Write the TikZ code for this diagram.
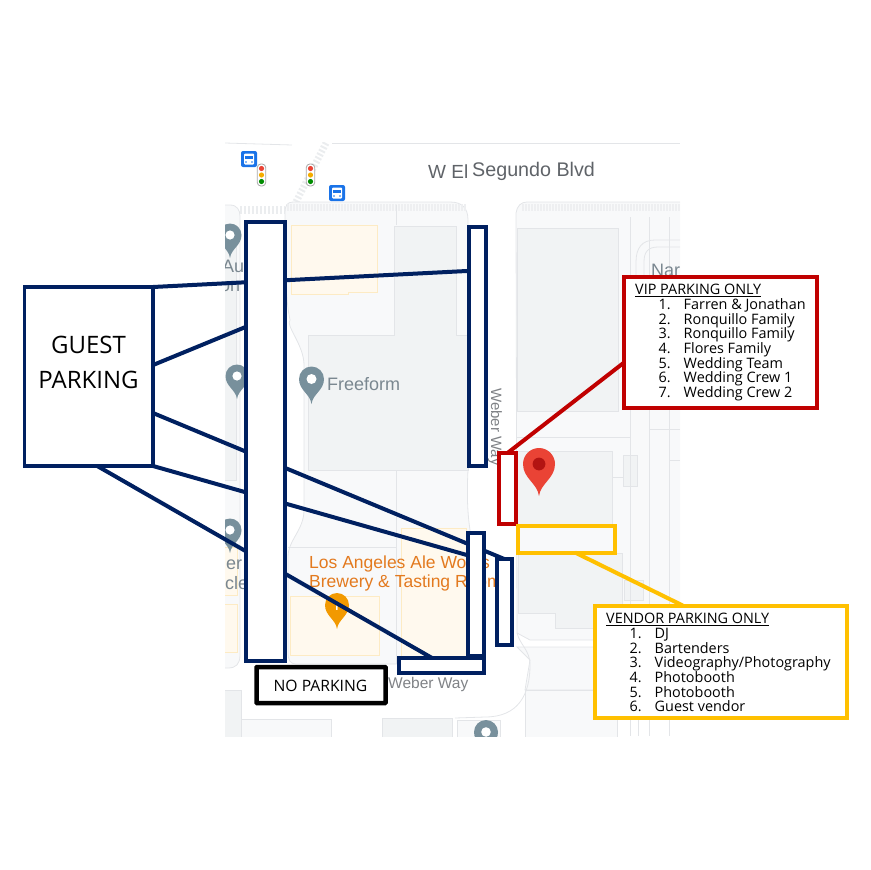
\documentclass[tikz,border=0pt]{standalone}
\usepackage{fontspec}
\setmainfont{Open Sans}
\newfontfamily\mapfont{Liberation Sans}
\usetikzlibrary{calc}
\definecolor{navy}{HTML}{002060}
\definecolor{vipred}{HTML}{C00000}
\definecolor{vendoryel}{HTML}{FFC000}
\definecolor{blockc}{HTML}{F8F9FA}
\definecolor{edgec}{HTML}{E3E5E8}
\definecolor{bldg}{HTML}{F1F3F4}
\definecolor{yelb}{HTML}{FFF9EE}
\definecolor{yeledge}{HTML}{FDEBC4}
\definecolor{pingray}{HTML}{78909C}
\definecolor{labelgray}{HTML}{7A8790}
\definecolor{roadtext}{HTML}{5F6368}
\definecolor{orangepin}{HTML}{F29900}
\definecolor{orangetext}{HTML}{E37A1F}
\definecolor{busblue}{HTML}{1A73E8}
\definecolor{pinred}{HTML}{EA4335}
\definecolor{pindark}{HTML}{B31412}
\pgfdeclarelayer{maplayer}
\pgfdeclarelayer{wires}
\pgfsetlayers{maplayer,wires,main}
\tikzset{
  x=1pt,y=-1pt,
  slotbox/.style={draw=navy,line width=4pt,fill=white,inner sep=0pt,outer sep=0pt},
  guestbox/.style={slotbox,line width=3.5pt},
  nopark/.style={draw=black,line width=4.5pt,fill=white,inner sep=0pt,outer sep=0pt,rounded corners=.5pt},
  vipslot/.style={draw=vipred,line width=4pt,fill=white,inner sep=0pt,outer sep=0pt},
  vipbox/.style={vipslot},
  vendorslot/.style={draw=vendoryel,line width=4pt,inner sep=0pt,outer sep=0pt},
  vendorbox/.style={vendorslot,fill=white},
  navyline/.style={draw=navy,line width=4pt},
  redline/.style={draw=vipred,line width=4pt},
  yelline/.style={draw=vendoryel,line width=4pt},
  blk/.style={fill=blockc,draw=edgec,line width=.8pt},
  bld/.style={fill=bldg,draw=edgec,line width=.8pt},
  ybld/.style={fill=yelb,draw=yeledge,line width=.8pt},
  thin edge/.style={draw=edgec,line width=.8pt},
  maptext/.style={font=\mapfont\fontsize{18}{18}\selectfont,text=labelgray,inner sep=0pt,anchor=base west},
  roadname/.style={font=\mapfont\fontsize{19.7}{19.7}\selectfont,text=roadtext,inner sep=0pt},
  brew/.style={font=\mapfont\fontsize{17.5}{17.5}\selectfont,text=orangetext,inner sep=0pt,anchor=base west},
  listtext/.style={font=\fontsize{14.4}{14.7}\selectfont,inner sep=0pt,anchor=north west,align=left},
}
\newcommand{\rectnode}[6]{\node[#1,minimum width={(#5)-(#3)},minimum height={(#6)-(#4)}] (#2) at ({((#3)+(#5))/2},{((#4)+(#6))/2}) {};}
\newcommand{\mappin}[5]{%
  \begin{scope}[shift={(#1,#2)},scale=#3]
    \fill[#4] (-1,0) .. controls (-1,-.55) and (-.55,-1) .. (0,-1) .. controls (.55,-1) and (1,-.55) .. (1,0) .. controls (1,.9) and (.1,1.2) .. (0,2) .. controls (-.1,1.2) and (-1,.9) .. (-1,0) -- cycle;
    \fill[#5] (0,0) circle (.4);
  \end{scope}}
\newcommand{\busicon}[2]{%
  \fill[busblue,rounded corners=2pt] (#1-8,#2-8) rectangle (#1+8,#2+8);
  \fill[white,rounded corners=1pt] (#1-5,#2-5.5) rectangle (#1+5,#2+5.5);
  \fill[busblue] (#1-3.6,#2-3) rectangle (#1+3.6,#2+.4);
  \fill[busblue] (#1-3,#2+3) circle (.9) (#1+3,#2+3) circle (.9);}
\newcommand{\signal}[2]{%
  \draw[fill=white,draw=black!35,line width=.8pt,rounded corners=3.5pt] (#1-4.2,#2-11) rectangle (#1+4.2,#2+11);
  \fill[pinred] (#1,#2-6.5) circle (2.6);
  \fill[orangepin!80!yellow] (#1,#2) circle (2.6);
  \fill[green!55!black] (#1,#2+6.5) circle (2.6);}
\newcommand{\itemline}[2]{\makebox[25pt][l]{#1}#2\\}
\begin{document}
\begin{tikzpicture}
\useasboundingbox (0,0) rectangle (870,870);

\begin{pgfonlayer}{maplayer}
\begin{scope}
\clip (225,142) rectangle (680,736);
% road edges and crossing
\draw[thin edge] (225,143) -- (292,145);
\draw[thin edge] (332,143) -- (680,143);
\draw[edgec!70,line width=7pt,dash pattern=on 2pt off 2pt] (326,143) -- (296,202);
% left block
\path[blk] (215,205) -- (230,205) .. controls (237,205) and (240,210) .. (240,216) -- (240,655) .. controls (240,664) and (236,668) .. (228,668) -- (215,668) -- cycle;
\path[bld] (215,225) rectangle (236,480);
\path[ybld] (215,547) rectangle (237,595);
\path[ybld] (215,604) rectangle (237,652);
\draw[edgec!70,line width=8pt,dash pattern=on 2pt off 2pt] (240,210) -- (285,210);
% main block
\path[blk] (285,212) .. controls (285,206) and (287,202) .. (293,202) -- (450,202) .. controls (462,202) and (468,208) .. (468,220) -- (468,470) .. controls (467,490) and (467,510) .. (470,530) -- (470,650) .. controls (470,660) and (466,664) .. (458,664) -- (296,664) .. controls (290,664) and (288,660) .. (288,652) -- (288,557) .. controls (288,540) and (304,530) .. (304,510) -- (304,365) .. controls (304,345) and (285,325) .. (290,320) .. controls (286,300) and (285,280) .. (285,212) -- cycle;
\draw[edgec!60,line width=7pt,dash pattern=on 1.5pt off 1.5pt] (287,207) -- (466,207);
\path[ybld] (291,225) -- (377,225) -- (377,292) -- (348,292) -- (348,294) -- (291,294) -- cycle;
\path[bld] (394,226) -- (456,226) -- (456,335) -- (468,335) -- (468,470) -- (308,470) -- (308,335) -- (394,335) -- cycle;
\draw[thin edge] (396,470) -- (396,664);
\draw[thin edge] (288,547) -- (396,547);
\draw[thin edge] (396,225) -- (396,205);
\path[ybld] (290,596) rectangle (379,655);
\path[ybld] (401,528) rectangle (466,657);
% right block
\path[blk] (516,213) .. controls (517,206) and (521,202) .. (527,202) -- (690,202) -- (690,640) -- (530,640) -- (517,633) -- cycle;
\draw[edgec!60,line width=7pt,dash pattern=on 1.5pt off 1.5pt] (522,207) -- (680,207);
\path[bld] (517,228) rectangle (618,411);
\path[bld] (517,451) rectangle (612,525);
\path[bld] (518,553) -- (622,553) -- (622,628) -- (555,628) -- (555,613) -- (518,613) -- cycle;
\path[bld] (623,455) rectangle (637,486);
\path[bld] (624,580) rectangle (643,600);
\draw[thin edge] (612,477) -- (623,477);
\draw[thin edge] (516,437) -- (630,437);
\draw[thin edge] (630,217) -- (630,736) (649,217) -- (649,736) (669,217) -- (669,736);
\draw[thin edge] (649,429) -- (680,429) (669,460) -- (680,460);
% curved drive
\draw[edgec,line width=.8pt] (636,280) -- (636,262) .. controls (636,248) and (642,240) .. (655,240) -- (680,240);
\draw[edgec,line width=.8pt] (644,280) -- (644,262) .. controls (644,252) and (648,247) .. (658,247) -- (680,247);
% lower right
\path[blk] (517,647) -- (690,647) -- (690,690) -- (525,690) -- (530,660) -- cycle;
\path[blk] (525,690) rectangle (617,745);
\draw[thin edge] (638,647) -- (638,736);
\draw[thin edge] (649,647) -- (649,736);
\draw[thin edge] (669,647) -- (669,736);
\draw[edgec,line width=.8pt] (517,633) .. controls (520,645) and (530,650) .. (530,665) .. controls (530,695) and (518,717) .. (485,717) -- (455,718);
% bottom strip
\path[bld] (215,690) rectangle (241,745);
\path[blk] (241,719) rectangle (331,745);
\path[bld] (382,718) rectangle (452,745);
\path[blk] (457,720) rectangle (500,745);
% labels
\node[maptext] (aut1) at (222,272) {Aut};
\node[maptext] (aut2) at (220,291) {on};
\node[maptext] (nar) at (651,276) {Nar};
\node[maptext] (freeform) at (327,390) {Freeform};
\node[maptext] (er1) at (226,569) {er};
\node[maptext] (er2) at (225,589) {cle};
\node[roadname,anchor=base west,font=\mapfont\fontsize{19}{19}\selectfont] (elname) at (428,178) {W El};
\node[roadname,anchor=base west] (segname) at (472,176) {Segundo Blvd};
\node[roadname,text=roadtext!80,anchor=base west,rotate=-90,font=\mapfont\fontsize{15}{15}\selectfont] (weberv) at (491,388) {Weber Way};
\node[roadname,text=roadtext!80,anchor=base west,font=\mapfont\fontsize{15.5}{15.5}\selectfont] (weberh) at (388,688) {Weber Way};
\node[brew] (brew1) at (309,568) {Los Angeles Ale Works};
\node[brew] (brew2) at (309,587) {Brewery \& Tasting Room};
% pins
\mappin{230}{235}{11.5}{pingray}{white}
\mappin{237}{376}{11.5}{pingray}{white}
\mappin{311.5}{379}{12.5}{pingray}{white}
\mappin{230}{530}{11.5}{pingray}{white}
\mappin{486}{732}{12}{pingray}{white}
\mappin{337}{605}{12}{orangepin}{orangepin}
\mappin{539}{464}{16}{pinred}{pindark}
\node[font=\mapfont\bfseries\fontsize{11}{11}\selectfont,text=white,inner sep=0pt] (ibeer) at (337,607) {I};
% icons
\busicon{249}{159}
\busicon{337}{193}
\signal{261.5}{175}
\signal{310.5}{175}
\end{scope}
\end{pgfonlayer}

% Parking slots and boxes
\rectnode{guestbox}{guest}{24.5}{287}{153}{466}
\rectnode{slotbox}{big}{246}{222}{285}{660.5}
\rectnode{slotbox}{upper}{469}{227}{486}{465.5}
\rectnode{slotbox}{lower}{468}{532.5}{483.5}{656}
\rectnode{slotbox}{small}{496.5}{559}{512}{645}
\rectnode{slotbox}{bottom}{398.5}{658}{483.5}{673}
\rectnode{nopark}{nop}{256.5}{667}{385.5}{703}
\rectnode{vipslot}{vslot}{499}{453}{516}{523.5}
\rectnode{vendorslot}{yslot}{517.5}{526}{615}{552.5}
\rectnode{vipbox}{vip}{623.5}{276.5}{816.5}{407.5}
\rectnode{vendorbox}{vendor}{594.5}{605.5}{846.5}{717.5}

\begin{pgfonlayer}{wires}
\draw[navyline] (guest.north east) -- ($(upper.north west)!.184!(upper.south west)$);
\draw[navyline] ($(guest.north east)!.436!(guest.south east)$) -- ($(big.north west)!.239!(big.south west)$);
\draw[navyline] ($(guest.north east)!.704!(guest.south east)$) -- (small.north);
\draw[navyline] (guest.south east) -- ($(lower.north west)!.185!(lower.south west)$);
\draw[navyline] ($(guest.south west)!.566!(guest.south east)$) -- ($(bottom.north west)!.395!(bottom.north east)$);
\draw[redline] ($(vip.north west)!.66!(vip.south west)$) -- (vslot.north);
\draw[yelline] ($(yslot.south west)!.59!(yslot.south east)$) -- ($(vendor.north west)!.35!(vendor.north east)$);
\end{pgfonlayer}

% Texts
\node[font=\fontsize{24}{34.5}\selectfont,align=center,inner sep=0pt] (guesttext) at (88.5,362.5) {GUEST\\PARKING};
\node[font=\fontsize{15.7}{15.7}\selectfont,inner sep=0pt] (noptext) at (320.5,686) {NO PARKING};
\node[listtext] (viptext) at (635,284) {\underline{VIP PARKING ONLY}\\[0pt]
\hspace*{23.5pt}\itemline{1.}{Farren \& Jonathan}
\hspace*{23.5pt}\itemline{2.}{Ronquillo Family}
\hspace*{23.5pt}\itemline{3.}{Ronquillo Family}
\hspace*{23.5pt}\itemline{4.}{Flores Family}
\hspace*{23.5pt}\itemline{5.}{Wedding Team}
\hspace*{23.5pt}\itemline{6.}{Wedding Crew 1}
\hspace*{23.5pt}\makebox[25pt][l]{7.}Wedding Crew 2};
\node[listtext] (vendortext) at (606,613) {\underline{VENDOR PARKING ONLY}\\[0pt]
\hspace*{23.5pt}\itemline{1.}{DJ}
\hspace*{23.5pt}\itemline{2.}{Bartenders}
\hspace*{23.5pt}\itemline{3.}{Videography/Photography}
\hspace*{23.5pt}\itemline{4.}{Photobooth}
\hspace*{23.5pt}\itemline{5.}{Photobooth}
\hspace*{23.5pt}\makebox[25pt][l]{6.}Guest vendor};
\end{tikzpicture}
\end{document}
